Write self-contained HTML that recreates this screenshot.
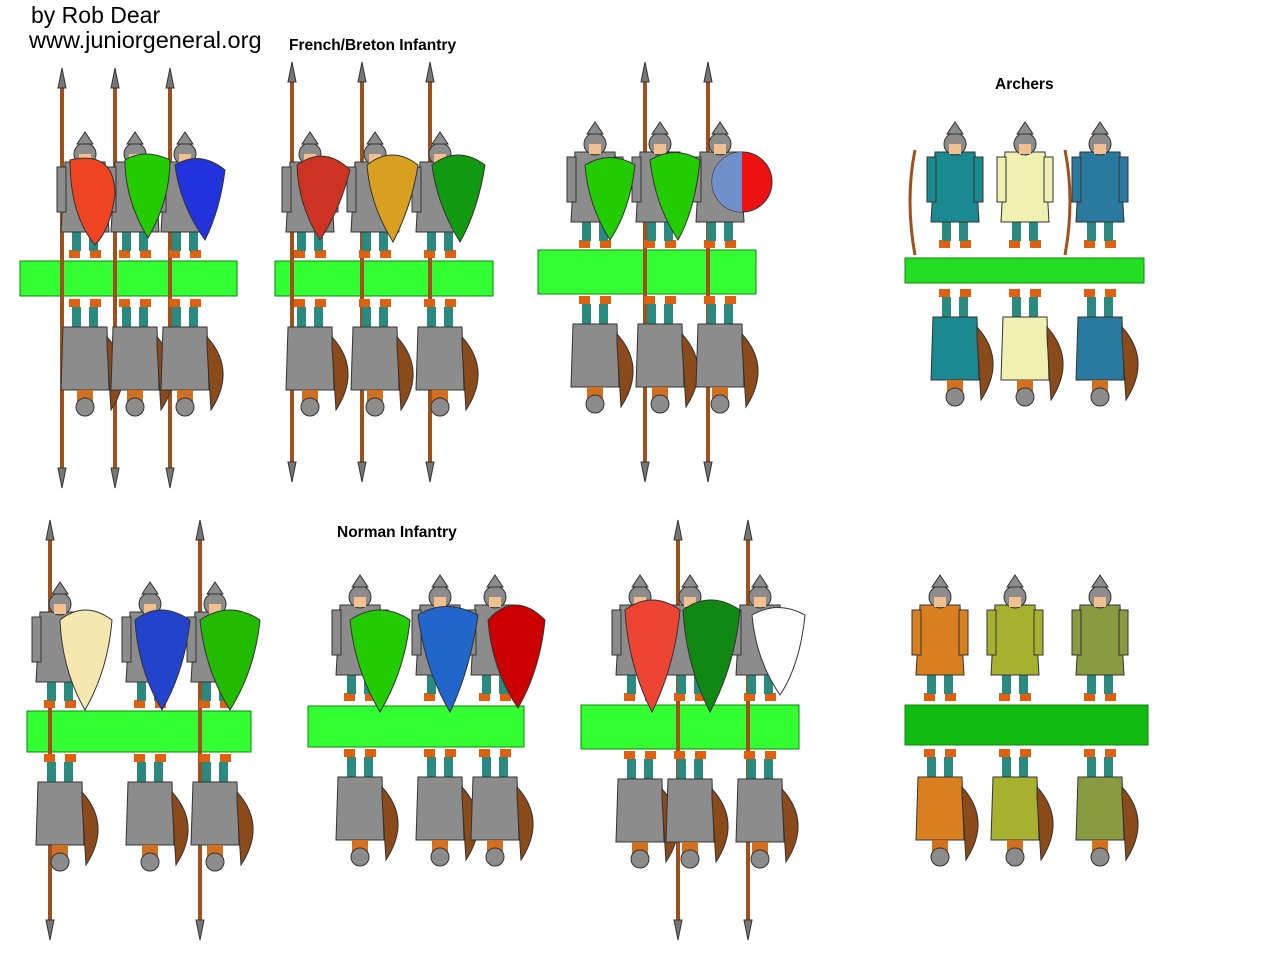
<!DOCTYPE html>
<html><head><meta charset="utf-8"><style>
html,body{margin:0;padding:0;background:#fff;}
svg{display:block}
text{font-family:"Liberation Sans",sans-serif;}
</style></head><body>
<svg width="1280" height="960" viewBox="0 0 1280 960" xmlns="http://www.w3.org/2000/svg">
<defs>
<g id="man">
  <rect x="-16" y="-22" width="11" height="8" fill="#e06010"/>
  <rect x="5" y="-22" width="11" height="8" fill="#e06010"/>
  <rect x="-13" y="-45" width="9" height="24" fill="#2a8a80"/>
  <rect x="4" y="-45" width="9" height="24" fill="#2a8a80"/>
  <path d="M-20,-110 L20,-110 L24,-40 L-24,-40 Z" stroke="#333" stroke-width="1"/>
  <rect x="-28" y="-105" width="9" height="45" stroke="#333" stroke-width="1"/>
  <rect x="19" y="-105" width="9" height="45" stroke="#333" stroke-width="1"/>
  <circle cx="0" cy="-118" r="11" fill="#8c8c8c" stroke="#333" stroke-width="1"/>
  <rect x="-6" y="-118" width="12" height="10" fill="#f0c090"/>
  <path d="M-8,-128 L0,-140 L8,-128 Z" fill="#8c8c8c" stroke="#333" stroke-width="1"/>
</g>
<g id="inv">
  <rect x="-16" y="14" width="11" height="8" fill="#e06010"/>
  <rect x="5" y="14" width="11" height="8" fill="#e06010"/>
  <rect x="-13" y="22" width="9" height="24" fill="#2a8a80"/>
  <rect x="4" y="22" width="9" height="24" fill="#2a8a80"/>
  <path d="M-22,42 L22,42 L24,105 L-24,105 Z" stroke="#333" stroke-width="1"/>
  <path d="M22,52 Q52,85 26,125 L22,62 Z" fill="#8a4a1a" stroke="#333" stroke-width="1"/>
  <rect x="-8" y="105" width="16" height="12" fill="#d07020"/>
  <circle cx="0" cy="122" r="9" fill="#8c8c8c" stroke="#333" stroke-width="1"/>
</g>
<g id="spear">
  <line x1="0" y1="0" x2="0" y2="400" stroke="#a0501a" stroke-width="4"/>
  <path d="M-4,10 L0,-10 L4,10 Z" fill="#777" stroke="#333"/>
  <path d="M-4,390 L0,410 L4,390 Z" fill="#777" stroke="#333"/>
</g>
</defs>

<text x="31" y="23" font-size="23">by Rob Dear</text>
<text x="29" y="48" font-size="23.5">www.juniorgeneral.org</text>
<text x="289" y="50" font-size="15.5" font-weight="bold">French/Breton Infantry</text>
<text x="995" y="89" font-size="15.5" font-weight="bold">Archers</text>
<text x="337" y="537" font-size="15.5" font-weight="bold">Norman Infantry</text>

<g stroke="#0a8a0a" stroke-width="1">
<rect x="20" y="261" width="217" height="35" fill="#33ff33"/>
<rect x="275" y="261" width="218" height="35" fill="#33ff33"/>
<rect x="538" y="250" width="218" height="44" fill="#33ff33"/>
<rect x="905" y="258" width="239" height="25" fill="#22dd22"/>
<rect x="27" y="711" width="224" height="41" fill="#33ff33"/>
<rect x="308" y="706" width="216" height="41" fill="#33ff33"/>
<rect x="581" y="705" width="218" height="44" fill="#33ff33"/>
<rect x="905" y="705" width="243" height="40" fill="#11bb11"/>
</g>

<g fill="#8c8c8c">
<use href="#spear" x="62" y="78"/><use href="#spear" x="115" y="78"/><use href="#spear" x="170" y="78"/>
<use href="#man" x="85" y="272"/><use href="#man" x="135" y="272"/><use href="#man" x="185" y="272"/>
<path d="M70,160 Q115,150 115,195 Q110,230 95,245 Q70,215 70,160Z" fill="#ee4422" stroke="#333"/>
<path d="M125,160 Q145,148 170,160 Q170,200 148,238 Q125,200 125,160Z" fill="#22cc00" stroke="#333"/>
<path d="M175,165 Q200,150 225,170 Q220,210 205,240 Q180,205 175,165Z" fill="#2233dd" stroke="#333"/>
<use href="#inv" x="85" y="285"/><use href="#inv" x="135" y="285"/><use href="#inv" x="185" y="285"/>

<use href="#spear" x="292" y="72"/><use href="#spear" x="362" y="72"/><use href="#spear" x="430" y="72"/>
<use href="#man" x="310" y="272"/><use href="#man" x="375" y="272"/><use href="#man" x="440" y="272"/>
<path d="M297,165 Q325,145 350,170 Q340,210 320,240 Q298,205 297,165Z" fill="#cc3322" stroke="#333"/>
<path d="M367,165 Q392,145 418,165 Q412,205 393,242 Q370,205 367,165Z" fill="#d8a020" stroke="#333"/>
<path d="M432,165 Q458,145 485,165 Q478,210 460,242 Q437,205 432,165Z" fill="#119911" stroke="#333"/>
<use href="#inv" x="310" y="285"/><use href="#inv" x="375" y="285"/><use href="#inv" x="440" y="285"/>

<use href="#spear" x="645" y="72"/><use href="#spear" x="708" y="72"/>
<use href="#man" x="595" y="262"/><use href="#man" x="660" y="262"/><use href="#man" x="720" y="262"/>
<path d="M585,165 Q610,150 635,165 Q630,210 610,240 Q588,205 585,165Z" fill="#22cc00" stroke="#333"/>
<path d="M650,160 Q675,145 700,160 Q695,210 678,240 Q655,205 650,160Z" fill="#22cc00" stroke="#333"/>
<circle cx="742" cy="182" r="30" fill="#ee1111" stroke="#333"/>
<path d="M742,152 A30,30 0 0 0 742,212 Z" fill="#7090cc"/>
<use href="#inv" x="595" y="282"/><use href="#inv" x="660" y="282"/><use href="#inv" x="720" y="282"/>

<use href="#man" x="955" y="262" fill="#1a8a90"/><use href="#man" x="1025" y="262" fill="#f0f0b0"/><use href="#man" x="1100" y="262" fill="#2a7aa0"/>
<path d="M915,150 Q905,200 915,255" fill="none" stroke="#a0501a" stroke-width="3"/>
<path d="M1065,150 Q1075,200 1065,255" fill="none" stroke="#a0501a" stroke-width="3"/>
<use href="#inv" x="955" y="275" fill="#1a8a90"/><use href="#inv" x="1025" y="275" fill="#f0f0b0"/><use href="#inv" x="1100" y="275" fill="#2a7aa0"/>
</g>

<g fill="#8c8c8c">
<use href="#spear" x="50" y="530"/><use href="#spear" x="200" y="530"/>
<use href="#man" x="60" y="722"/><use href="#man" x="150" y="722"/><use href="#man" x="215" y="722"/>
<path d="M60,620 Q85,600 112,620 Q108,670 85,710 Q62,670 60,620Z" fill="#f4e8b0" stroke="#333"/>
<path d="M135,620 Q160,600 190,620 Q185,670 162,710 Q138,670 135,620Z" fill="#2244cc" stroke="#333"/>
<path d="M200,620 Q230,600 260,620 Q255,670 230,710 Q205,670 200,620Z" fill="#22bb00" stroke="#333"/>
<use href="#inv" x="60" y="740"/><use href="#inv" x="150" y="740"/><use href="#inv" x="215" y="740"/>

<use href="#man" x="360" y="715"/><use href="#man" x="440" y="715"/><use href="#man" x="495" y="715"/>
<path d="M350,620 Q380,600 410,620 Q405,670 380,712 Q355,670 350,620Z" fill="#22cc00" stroke="#333"/>
<path d="M418,615 Q445,598 478,615 Q470,670 450,712 Q425,670 418,615Z" fill="#2266cc" stroke="#333"/>
<path d="M488,620 Q515,590 545,620 Q540,670 518,708 Q492,670 488,620Z" fill="#cc0000" stroke="#333"/>
<use href="#inv" x="360" y="735"/><use href="#inv" x="440" y="735"/><use href="#inv" x="495" y="735"/>

<use href="#spear" x="678" y="530"/><use href="#spear" x="748" y="530"/>
<use href="#man" x="640" y="715"/><use href="#man" x="690" y="715"/><use href="#man" x="760" y="715"/>
<path d="M625,610 Q652,590 680,610 Q675,665 652,712 Q628,665 625,610Z" fill="#ee4433" stroke="#333"/>
<path d="M683,610 Q710,590 740,610 Q735,665 710,712 Q686,665 683,610Z" fill="#118811" stroke="#333"/>
<path d="M752,615 Q778,600 805,615 Q800,665 780,695 Q756,660 752,615Z" fill="#fff" stroke="#333"/>
<use href="#inv" x="640" y="737"/><use href="#inv" x="690" y="737"/><use href="#inv" x="760" y="737"/>

<use href="#man" x="940" y="715" fill="#d88020"/><use href="#man" x="1015" y="715" fill="#a8b030"/><use href="#man" x="1100" y="715" fill="#8a9a40"/>
<use href="#inv" x="940" y="735" fill="#d88020"/><use href="#inv" x="1015" y="735" fill="#a8b030"/><use href="#inv" x="1100" y="735" fill="#8a9a40"/>
</g>
</svg>
</body></html>
